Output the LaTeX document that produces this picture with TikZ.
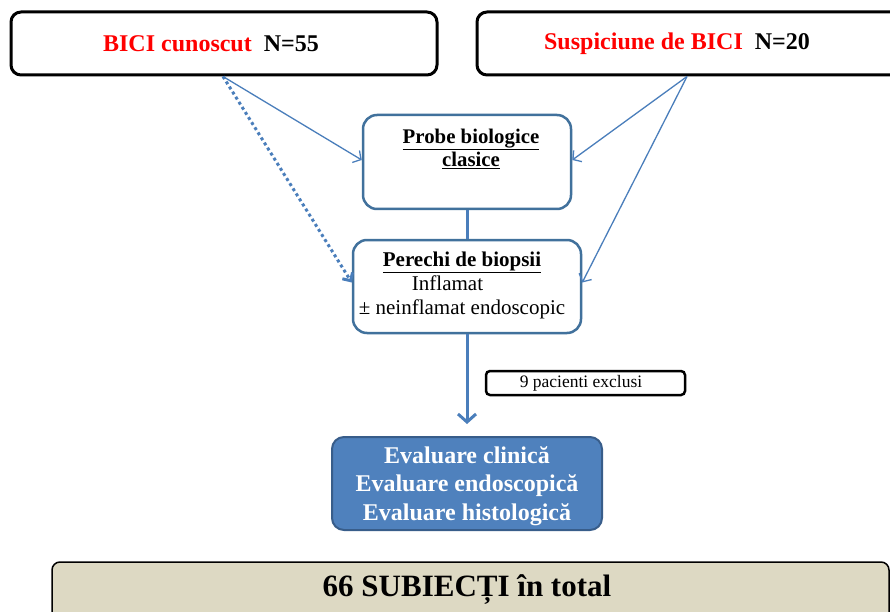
\documentclass[tikz,border=0pt]{standalone}
\usepackage{fontspec}
\setmainfont{Liberation Serif}
\usetikzlibrary{arrows.meta}
\definecolor{arrblue}{HTML}{4A7EBB}
\definecolor{boxblue}{HTML}{41719C}
\definecolor{fillblue}{HTML}{4F81BD}
\definecolor{evborder}{HTML}{385D8A}
\definecolor{tanfill}{HTML}{DDD9C3}
\definecolor{pured}{HTML}{FF0000}
\begin{document}
\begin{tikzpicture}[x=1pt,y=-1pt,
  topbox/.style={draw=black,line width=3pt,rounded corners=10pt,minimum height=63pt,inner sep=0pt,font=\fontsize{24}{28}\selectfont\bfseries},
  bluebox/.style={draw=boxblue,line width=2.5pt,rounded corners=14pt,inner sep=0pt},
  evbox/.style={draw=evborder,fill=fillblue,line width=2pt,rounded corners=12pt,inner sep=0pt,text=white,align=center,font=\fontsize{24}{28.5}\selectfont\bfseries},
  exbox/.style={draw=black,line width=2.5pt,rounded corners=4pt,inner sep=0pt,font=\fontsize{17.5}{20}\selectfont},
  botbox/.style={draw=black,fill=tanfill,line width=1.5pt,rounded corners=8pt,inner sep=0pt},
  txt/.style={inner sep=0pt,align=center},
  thinarrow/.style={draw=arrblue,line width=1.3pt,-{Straight Barb[length=6pt,width=14pt]}},
  dotarrow/.style={draw=arrblue,line width=3pt,dash pattern=on 3pt off 3pt,-{Straight Barb[length=6pt,width=12pt]}},
  mainarrow/.style={draw=arrblue,line width=3pt,-{Straight Barb[length=8pt,width=18pt]}}
]
\useasboundingbox (0,0) rectangle (890,612);
\fill[white] (0,0) rectangle (890,612);

\node[topbox,minimum width=426pt] (known) at (224,43.5) {\textcolor{pured}{BICI cunoscut}\ \ N=55\kern26pt};
\node[topbox,minimum width=426pt] (susp) at (690,43.5) {\textcolor{pured}{Suspiciune de BICI}\ \ N=20\kern26pt};

\node[bluebox,minimum width=208pt,minimum height=94pt] (probe) at (467,162) {};
\node[txt,font=\fontsize{20.8}{23}\selectfont\bfseries] (probetxt) at (471,148.5) {\underline{Probe biologice}\\\underline{clasice}};

\node[bluebox,minimum width=228pt,minimum height=93pt] (perechi) at (467,286.5) {};
\node[txt,font=\fontsize{21}{24}\selectfont] (perechitxt) at (462,285) {\textbf{\underline{Perechi de biopsii}}\\Inflamat\kern29pt\\± neinflamat endoscopic};

\node[exbox,minimum width=199pt,minimum height=24pt] (excl) at (585.5,383) {9 pacienti exclusi\kern9pt};

\node[evbox,minimum width=270pt,minimum height=93pt] (eval) at (467,483.5) {};
\node[txt,text=white,font=\fontsize{24}{28.5}\selectfont\bfseries] (evaltxt) at (467,486) {Evaluare clinică\\Evaluare endoscopică\\Evaluare histologică};

\node[botbox,minimum width=837pt,minimum height=70pt] (total) at (470.5,597) {};
\node[txt,font=\fontsize{31}{34}\selectfont\bfseries] (totaltxt) at (467,590) {66 SUBIECȚI în total};

\draw[thinarrow] ([xshift=-1pt]known.south) -- ([yshift=2pt]probe.west);
\draw[dotarrow] ([xshift=-1pt]known.south) -- ([yshift=4pt]perechi.west);
\draw[thinarrow] ([xshift=-3pt]susp.south) -- ([yshift=2pt]probe.east);
\draw[thinarrow] ([xshift=-3pt]susp.south) -- ([yshift=4pt]perechi.east);
\draw[draw=arrblue,line width=3pt] (probe.south) -- (perechi.north);
\draw[mainarrow] (perechi.south) -- ([yshift=12pt]eval.north);
\end{tikzpicture}
\end{document}
